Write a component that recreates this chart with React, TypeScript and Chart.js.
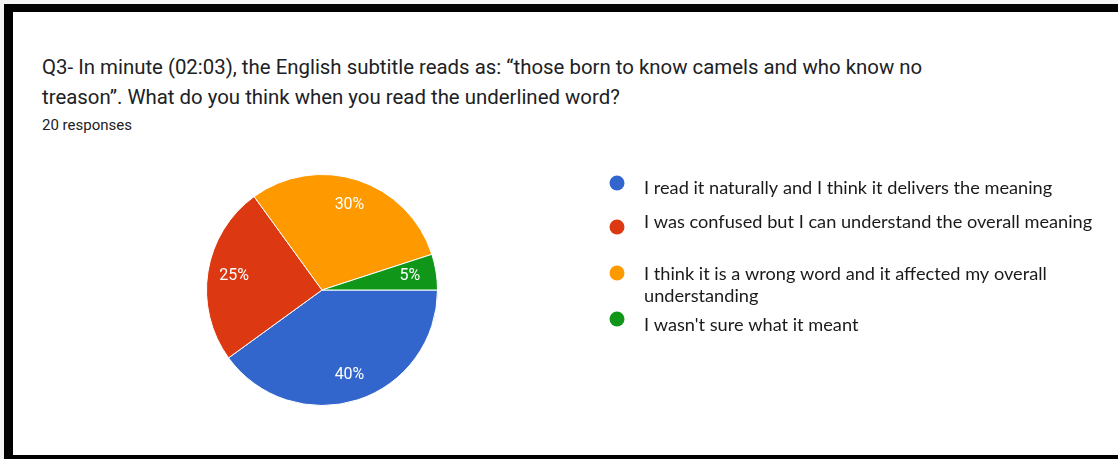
import { useEffect, useRef } from "react";
import { Chart, registerables } from "chart.js";

Chart.register(...registerables);

// ---- data ----
const titleLines = [
  "Q3- In minute (02:03), the English subtitle reads as: \u201cthose born to know camels and who know no",
  "treason\u201d. What do you think when you read the underlined word?",
];
const responsesLabel = "20 responses";

const categories: (string | string[])[] = [
  "I read it naturally and I think it delivers the meaning",
  "I was confused but I can understand the overall meaning",
  ["I think it is a wrong word and it affected my overall", "understanding"],
  "I wasn't sure what it meant",
];
const responseCounts = [8, 5, 6, 1];
const sliceColors = ["#3366cc", "#dc3912", "#ff9900", "#109618"];

// legend layout (baselines per item / line, dot centres)
const legendDotY = [183, 227, 273, 319];
const legendBaselines: number[][] = [[194], [228], [280, 302], [331]];

const sliceLabelPlugin = {
  id: "sliceLabels",
  afterDatasetsDraw(chart: any) {
    const meta = chart.getDatasetMeta(0);
    const data = chart.data.datasets[0].data as number[];
    const total = data.reduce((a, b) => a + b, 0);
    const ctx = chart.ctx as CanvasRenderingContext2D;
    ctx.save();
    ctx.fillStyle = "#ffffff";
    ctx.font = "16px Roboto";
    ctx.textAlign = "center";
    ctx.textBaseline = "middle";
    meta.data.forEach((arc: any, i: number) => {
      const p = arc.getProps(["x", "y", "startAngle", "endAngle", "outerRadius"], true);
      const mid = (p.startAngle + p.endAngle) / 2;
      const r = p.outerRadius * 0.77;
      const txt = Math.round((data[i] / total) * 100) + "%";
      ctx.fillText(txt, p.x + Math.cos(mid) * r, p.y + Math.sin(mid) * r);
    });
    ctx.restore();
  },
};

const legendPlugin = {
  id: "sideLegend",
  afterDraw(chart: any) {
    const ctx = chart.ctx as CanvasRenderingContext2D;
    const labels = chart.data.labels as (string | string[])[];
    const colors = chart.data.datasets[0].backgroundColor as string[];
    ctx.save();
    labels.forEach((lab, i) => {
      ctx.beginPath();
      ctx.fillStyle = colors[i];
      ctx.arc(617, legendDotY[i], 7.5, 0, Math.PI * 2);
      ctx.fill();
      const lines = Array.isArray(lab) ? lab : [lab];
      ctx.fillStyle = "#1a1a1a";
      ctx.font = "18.2px Lato";
      ctx.textAlign = "left";
      ctx.textBaseline = "alphabetic";
      lines.forEach((ln, j) => {
        ctx.fillText(ln, 644, legendBaselines[i][j]);
      });
    });
    ctx.restore();
  },
};

export default function App() {
  const canvasRef = useRef<HTMLCanvasElement | null>(null);

  useEffect(() => {
    if (!canvasRef.current) return;
    const chart = new Chart(canvasRef.current, {
      type: "pie",
      data: {
        labels: categories,
        datasets: [
          {
            data: responseCounts,
            backgroundColor: sliceColors,
            borderColor: "#ffffff",
            borderWidth: 1,
          },
        ],
      },
      options: {
        responsive: false,
        animation: false,
        events: [],
        rotation: 90,
        layout: { padding: { left: 206, right: 680, top: 174, bottom: 53 } },
        plugins: {
          legend: { display: false },
          tooltip: { enabled: false },
          title: { display: false },
        },
      },
      plugins: [sliceLabelPlugin, legendPlugin],
    });
    return () => chart.destroy();
  }, []);

  return (
    <div
      style={{
        position: "absolute",
        left: 0,
        top: 0,
        width: 1118,
        height: 459,
        overflow: "hidden",
        background: "#f3f3f3",
      }}
    >
      <div
        style={{
          position: "absolute",
          left: 4,
          top: 4,
          width: 1120,
          height: 456,
          boxSizing: "border-box",
          borderLeft: "9px solid #000",
          borderTop: "8px solid #000",
          borderBottom: "5px solid #000",
          background: "#ffffff",
        }}
      />
      <div
        style={{
          position: "absolute",
          left: 42,
          top: 52,
          fontFamily: "Roboto",
          fontSize: 20.4,
          lineHeight: "30px",
          color: "#202124",
          whiteSpace: "nowrap",
        }}
      >
        {titleLines.map((t, i) => (
          <div key={i}>{t}</div>
        ))}
      </div>
      <div
        style={{
          position: "absolute",
          left: 42,
          top: 115,
          fontFamily: "Roboto",
          fontSize: 15,
          lineHeight: "20px",
          color: "#202124",
          whiteSpace: "nowrap",
        }}
      >
        {responsesLabel}
      </div>
      <canvas
        ref={canvasRef}
        width={1118}
        height={459}
        style={{ position: "absolute", left: 0, top: 0, width: 1118, height: 459 }}
      />
    </div>
  );
}
